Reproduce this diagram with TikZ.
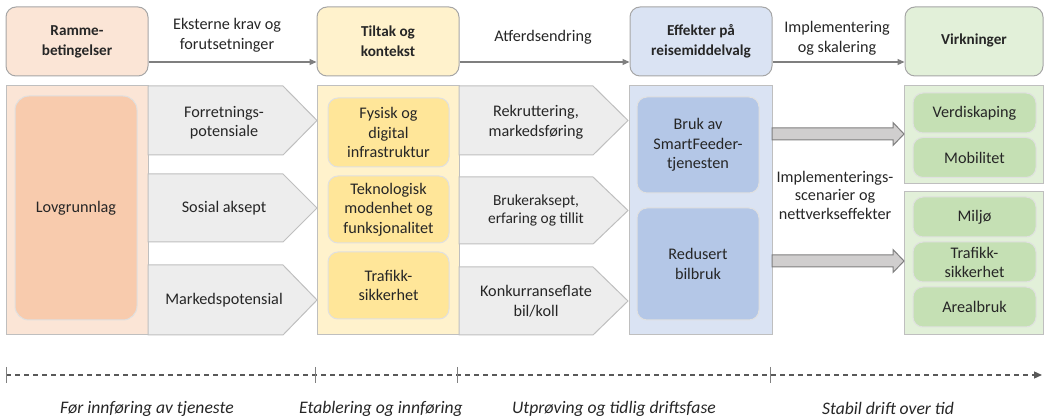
\documentclass[tikz,border=0pt]{standalone}
\usepackage{fontspec}
\setmainfont{Carlito}
\usetikzlibrary{positioning, calc, arrows.meta}
\definecolor{RammeColor}{HTML}{FBE5D6}
\definecolor{LovColor}{HTML}{F8CBAD}
\definecolor{TiltakColor}{HTML}{FFF2CC}
\definecolor{TiltakInnerColor}{HTML}{FFE699}
\definecolor{EffektColor}{HTML}{DAE3F3}
\definecolor{EffektInnerColor}{HTML}{B4C7E7}
\definecolor{VirkColor}{HTML}{E2F0D9}
\definecolor{VirkInnerColor}{HTML}{C5E0B4}
\definecolor{ChevColor}{HTML}{EDEDED}
\definecolor{EdgeColor}{HTML}{BFBFBF}
\definecolor{FatColor}{HTML}{D0CECE}
\definecolor{TextColor}{HTML}{262626}
\definecolor{LineColor}{HTML}{7F7F7F}
\newcommand\basefont{\fontsize{16.2}{19.5}\selectfont}
\newcommand\hdrfont{\fontsize{15.2}{20}\selectfont}
\newcommand\phasefont{\fontsize{17.6}{21}\selectfont}
\tikzset{
    hdrbox/.style={
        shape=rectangle,
        rounded corners=10pt,
        draw=black!35,
        line width=1pt,
        fill=#1,
        minimum width=142pt,
        minimum height=69pt,
        align=center,
        font=\hdrfont\bfseries
    },
    panel/.style={
        shape=rectangle,
        draw=EdgeColor,
        line width=1pt,
        fill=#1,
        minimum width=142pt,
        minimum height=249pt
    },
    innerbox/.style={
        shape=rectangle,
        rounded corners=10pt,
        draw=black!12,
        line width=1pt,
        fill=#1,
        minimum width=121pt,
        inner sep=1pt,
        align=center
    },
    chev/.style={draw=EdgeColor, line width=1pt, fill=ChevColor},
    lbl/.style={align=center},
    flowarrow/.style={-{Triangle[length=7pt,width=6pt]}, draw=LineColor, line width=1.2pt},
    fatarrow/.style={draw=LineColor, line width=1pt, fill=FatColor},
    timeline/.style={-{Triangle[length=8pt,width=7pt]}, draw=black!65, line width=1.2pt, dash pattern=on 5pt off 4pt},
    tick/.style={draw=black!50, line width=1pt},
    phase/.style={font=\phasefont\itshape}
}

\begin{document}
\begin{tikzpicture}[x=1pt, y=-1pt, every node/.style={font=\basefont, text=TextColor}]
\useasboundingbox (0,0) rectangle (1044,419);

% Headers
\node[hdrbox=RammeColor] (hRamme) at (77,41.5) {Ramme-\\betingelser};
\node[hdrbox=TiltakColor] (hTiltak) at (388,41.5) {Tiltak og\\kontekst};
\node[hdrbox=EffektColor] (hEffekt) at (701,41.5) {Effekter på\\reisemiddelvalg};
\node[hdrbox=VirkColor, minimum width=138pt] (hVirk) at (974,41.5) {\raisebox{4pt}{Virkninger}};

\coordinate (hArrowY) at (0,62);
\draw[flowarrow] (hRamme.east |- hArrowY) -- (hTiltak.west |- hArrowY);
\draw[flowarrow] (hTiltak.east |- hArrowY) -- (hEffekt.west |- hArrowY);
\draw[flowarrow] (hEffekt.east |- hArrowY) -- (hVirk.west |- hArrowY);

\node[lbl, font=\fontsize{16.2}{20}\selectfont] (lEksterne) at (227,35) {Eksterne krav og\\forutsetninger};
\node[lbl] (lAtferd) at (543,37) {Atferdsendring};
\node[lbl, font=\fontsize{16.2}{20}\selectfont] (lImpl) at (837,38) {Implementering\\og skalering};

% Column panels
\node[panel=RammeColor] (pRamme) at (77,210.5) {};
\node[panel=TiltakColor] (pTiltak) at (388,210.5) {};
\node[panel=EffektColor, minimum width=143pt] (pEffekt) at (700.5,210.5) {};
\node[panel=VirkColor, minimum width=139pt, minimum height=98pt] (pVirkA) at (973.5,135) {};
\node[panel=VirkColor, minimum width=139pt, minimum height=143pt] (pVirkB) at (973.5,263.5) {};

% Rammebetingelser
\node[innerbox=LovColor, rounded corners=14pt, minimum width=122pt, minimum height=224pt] (iLov) at (76,208) {Lovgrunnlag};

% Chevrons, first column
\draw[chev] (148,86) -- (283,86) -- (317,120.5) -- (283,155) -- (148,155) -- cycle;
\draw[chev] (148,174) -- (283,174) -- (317,208) -- (283,242) -- (148,242) -- cycle;
\draw[chev] (148,265) -- (283,265) -- (317,300) -- (283,335) -- (148,335) -- cycle;
\node[lbl] (cForr) at (224,122.5) {Forretnings-\\potensiale};
\node[lbl] (cSosial) at (224,208) {Sosial aksept};
\node[lbl] (cMarked) at (224,300) {Markedspotensial};

% Tiltak og kontekst
\node[innerbox=TiltakInnerColor, minimum height=69pt] (iFysisk) at (388.5,132.5) {Fysisk og\\digital\\infrastruktur};
\node[innerbox=TiltakInnerColor, minimum height=67pt] (iTekno) at (388.5,209.5) {Teknologisk\\modenhet og\\funksjonalitet};
\node[innerbox=TiltakInnerColor, minimum height=67pt] (iTrafikkT) at (388.5,285.5) {Trafikk-\\sikkerhet};

% Chevrons, second column
\draw[chev] (459,86) -- (593,86) -- (628,120.5) -- (593,155) -- (459,155) -- cycle;
\draw[chev] (459,177) -- (593,177) -- (628,210.5) -- (593,244) -- (459,244) -- cycle;
\draw[chev] (459,267) -- (593,267) -- (628,301) -- (593,335) -- (459,335) -- cycle;
\node[lbl] (cRekrut) at (536,122.5) {Rekruttering,\\markedsføring};
\node[lbl, font=\fontsize{15.4}{18}\selectfont] (cBruker) at (536,210.5) {Brukeraksept,\\erfaring og tillit};
\node[lbl] (cKonk) at (536,301) {Konkurranseflate\\bil/koll};

% Effekter
\node[innerbox=EffektInnerColor, minimum width=122pt, minimum height=96pt] (iBruk) at (698,145) {Bruk av\\SmartFeeder-\\tjenesten};
\node[innerbox=EffektInnerColor, minimum width=122pt, minimum height=112pt] (iRedusert) at (698,264) {Redusert\\bilbruk};

% Fat arrows
\path[fatarrow] (772,128) -- (893,128) -- (893,122.5) -- (904,134) -- (893,145.5) -- (893,140) -- (772,140) -- cycle;
\path[fatarrow] (772,255) -- (893,255) -- (893,249.5) -- (904,261) -- (893,272.5) -- (893,267) -- (772,267) -- cycle;
\node[lbl, font=\fontsize{16.2}{18.5}\selectfont] (lScen) at (835,195) {Implementerings-\\scenarier og\\nettverkseffekter};

% Virkninger
\node[innerbox=VirkInnerColor, minimum width=123pt, minimum height=40pt] (iVerdi) at (974.5,113) {Verdiskaping};
\node[innerbox=VirkInnerColor, minimum width=123pt, minimum height=40pt] (iMobil) at (974.5,157.5) {Mobilitet};
\node[innerbox=VirkInnerColor, minimum width=123pt, minimum height=40pt] (iMiljo) at (974.5,217) {Miljø};
\node[innerbox=VirkInnerColor, minimum width=123pt, minimum height=40pt, font=\fontsize{16.2}{19}\selectfont] (iTrafikkV) at (974.5,262) {Trafikk-\\sikkerhet};
\node[innerbox=VirkInnerColor, minimum width=123pt, minimum height=40pt] (iAreal) at (974.5,307) {Arealbruk};

% Timeline
\coordinate (t0) at (6,375);
\coordinate (t1) at (315,375);
\coordinate (t2) at (457,375);
\coordinate (t3) at (770,375);
\coordinate (tEnd) at (1042,375);
\draw[timeline] (t0) -- (tEnd);
\draw[tick] (t0) ++(0,-8) -- ++(0,16);
\draw[tick] (t1) ++(0,-8) -- ++(0,16);
\draw[tick] (t2) ++(0,-8) -- ++(0,16);
\draw[tick] (t3) ++(0,-8) -- ++(0,16);

\node[phase] (ph1) at (147,408.5) {Før innføring av tjeneste};
\node[phase] (ph2) at (381,408.5) {Etablering og innføring};
\node[phase] (ph3) at (614,408.5) {Utprøving og tidlig driftsfase};
\node[phase] (ph4) at (888,408.5) {Stabil drift over tid};

\end{tikzpicture}
\end{document}
